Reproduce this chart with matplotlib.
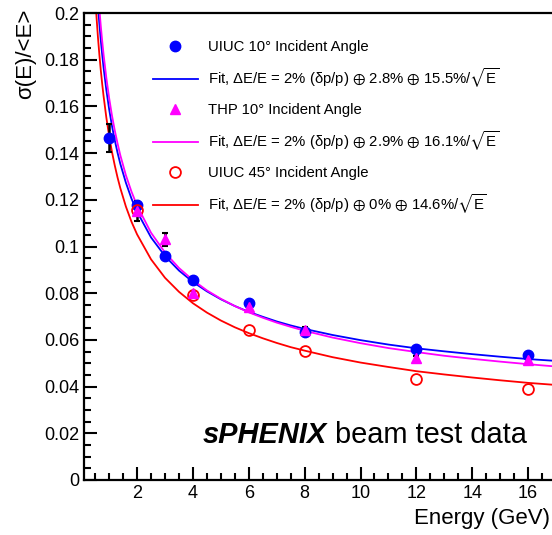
import matplotlib
matplotlib.use('Agg')
import matplotlib.pyplot as plt
from matplotlib.lines import Line2D
from matplotlib.ticker import MultipleLocator, FormatStrFormatter

plt.rcParams['font.family'] = ['Liberation Sans', 'DejaVu Sans']
plt.rcParams['mathtext.fontset'] = 'custom'
plt.rcParams['mathtext.rm'] = 'Liberation Sans'
plt.rcParams['mathtext.it'] = 'Liberation Sans:italic'
plt.rcParams['mathtext.bf'] = 'Liberation Sans:bold'
plt.rcParams['mathtext.fallback'] = 'stixsans'

# ---- measured points ----
energy_uiuc10 = [1, 2, 3, 4, 6, 8, 12, 16]
res_uiuc10 = [0.1464, 0.1177, 0.0961, 0.0858, 0.0758, 0.0635, 0.0561, 0.0536]
err_uiuc10 = [0.0060, 0.0015, 0.0010, 0.0010, 0.0010, 0.0010, 0.0010, 0.0010]

energy_thp10 = [2, 3, 4, 6, 8, 12, 16]
res_thp10 = [0.1152, 0.1030, 0.0800, 0.0740, 0.0644, 0.0522, 0.0512]
err_thp10 = [0.0043, 0.0028, 0.0010, 0.0010, 0.0010, 0.0010, 0.0010]

energy_uiuc45 = [2, 4, 6, 8, 12, 16]
res_uiuc45 = [0.1156, 0.0794, 0.0644, 0.0554, 0.0433, 0.0390]

# ---- fit curves ----
fit_energy = [0.5, 0.55, 0.6, 0.65, 0.7, 0.75, 0.8, 0.9, 1.0, 1.1, 1.2, 1.3, 1.4,
              1.6, 1.8, 2.0, 2.5, 3.0, 3.5, 4.0, 4.5, 5.0, 5.5, 6.0, 6.5, 7.0,
              7.5, 8.0, 9.0, 10.0, 11.0, 12.0, 13.0, 14.0, 15.0, 16.0, 17.0, 18.0]
fit_uiuc10 = [0.2219, 0.2118, 0.2030, 0.1953, 0.1884, 0.1823, 0.1767, 0.1670,
              0.1588, 0.1517, 0.1456, 0.1402, 0.1354, 0.1273, 0.1205, 0.1149,
              0.1039, 0.0959, 0.0897, 0.0848, 0.0808, 0.0774, 0.0745, 0.0720,
              0.0699, 0.0679, 0.0662, 0.0647, 0.0621, 0.0599, 0.0580, 0.0564,
              0.0551, 0.0539, 0.0528, 0.0518, 0.0510, 0.0502]
fit_thp10 = [0.2295, 0.2190, 0.2099, 0.2018, 0.1946, 0.1882, 0.1823, 0.1722,
             0.1636, 0.1562, 0.1498, 0.1442, 0.1391, 0.1305, 0.1235, 0.1175,
             0.1059, 0.0974, 0.0908, 0.0856, 0.0812, 0.0776, 0.0745, 0.0718,
             0.0695, 0.0674, 0.0656, 0.0639, 0.0610, 0.0586, 0.0565, 0.0548,
             0.0532, 0.0519, 0.0507, 0.0496, 0.0486, 0.0478]
fit_uiuc45 = [0.2074, 0.1979, 0.1895, 0.1822, 0.1756, 0.1698, 0.1645, 0.1552,
              0.1474, 0.1406, 0.1348, 0.1296, 0.1250, 0.1171, 0.1106, 0.1052,
              0.0945, 0.0866, 0.0806, 0.0757, 0.0717, 0.0683, 0.0654, 0.0629,
              0.0607, 0.0587, 0.0569, 0.0554, 0.0526, 0.0503, 0.0484, 0.0466,
              0.0452, 0.0439, 0.0427, 0.0416, 0.0407, 0.0398]

fit_terms = [('2.8%', '15.5%'), ('2.9%', '16.1%'), ('0%', '14.6%')]
angle_labels = ['UIUC 10\u00b0 Incident Angle', 'THP 10\u00b0 Incident Angle',
                'UIUC 45\u00b0 Incident Angle']


def fit_label(const, stoch):
    return ('Fit, \u0394E/E = 2% (\u03b4p/p) $\\oplus$ ' + const +
            ' $\\oplus$ ' + stoch + '/$\\sqrt{\\mathrm{E}}$')


labels = []
for name, (c, s) in zip(angle_labels, fit_terms):
    labels.append(name)
    labels.append(fit_label(c, s))

BLUE = '#0000ff'
MAG = '#ff00ff'
RED = '#ff0000'

W, H = 552, 535
fig = plt.figure(figsize=(W / 100, H / 100), dpi=100)
xmin, xmax = 0.1, 18.5
ax = fig.add_axes([84 / W, 55 / H, (xmax - xmin) * 27.93 / W, 467 / H])
ax.set_xlim(xmin, xmax)
ax.set_ylim(0, 0.2)

ax.plot(fit_energy, fit_uiuc10, color=BLUE, lw=1.3, zorder=2)
ax.plot(fit_energy, fit_thp10, color=MAG, lw=1.3, zorder=2)
ax.plot(fit_energy, fit_uiuc45, color=RED, lw=1.3, zorder=2)

ax.errorbar(energy_uiuc10, res_uiuc10, yerr=err_uiuc10, fmt='none', ecolor='black',
            elinewidth=1.8, capsize=2, capthick=1.5, zorder=3)
ax.errorbar(energy_thp10, res_thp10, yerr=err_thp10, fmt='none', ecolor='black',
            elinewidth=1.8, capsize=2, capthick=1.5, zorder=3)

ax.plot(energy_uiuc10, res_uiuc10, 'o', color=BLUE, ms=7.5, mec=BLUE, zorder=4)
ax.plot(energy_uiuc45, res_uiuc45, 'o', mfc='none', mec=RED, ms=7.8, mew=1.3, zorder=5)
ax.plot(energy_thp10, res_thp10, '^', color=MAG, ms=7.5, mec=MAG, zorder=6)

handles = [Line2D([], [], ls='none', marker='o', color=BLUE, ms=7.5),
           Line2D([], [], color=BLUE, lw=1.3),
           Line2D([], [], ls='none', marker='^', color=MAG, ms=7.5),
           Line2D([], [], color=MAG, lw=1.3),
           Line2D([], [], ls='none', marker='o', mfc='none', mec=RED, ms=7.8, mew=1.3),
           Line2D([], [], color=RED, lw=1.3)]
fig.legend(handles, labels, loc='upper left', bbox_to_anchor=(153 / W, 1 - 40 / H),
           bbox_transform=fig.transFigure, frameon=False, fontsize=10.7,
           handlelength=3.0, handletextpad=0.68, labelspacing=0.85,
           borderpad=0, borderaxespad=0)

# axes styling
for side in ['left', 'bottom', 'top']:
    ax.spines[side].set_linewidth(1.6)
ax.spines['right'].set_visible(False)
ax.xaxis.set_major_locator(MultipleLocator(2))
ax.xaxis.set_minor_locator(MultipleLocator(0.5))
ax.yaxis.set_major_locator(MultipleLocator(0.02))
ax.yaxis.set_minor_locator(MultipleLocator(0.005))
ax.yaxis.set_major_formatter(FormatStrFormatter('%g'))
ax.tick_params(which='both', direction='in', top=False, right=False, width=1.5,
               labelsize=13)
ax.tick_params(which='major', length=9.5, pad=3.5)
ax.tick_params(which='minor', length=5)
ax.set_xticks([2, 4, 6, 8, 10, 12, 14, 16])

fig.text(26 / W, 1 - 9 / H, '\u03c3(E)/<E>', rotation=90, ha='center', va='top',
         fontsize=16)
fig.text(550 / W, 1 - 508 / H, 'Energy (GeV)', ha='right', va='top', fontsize=16)

t1 = fig.text(203 / W, 1 - 435 / H, 'sPHENIX', fontweight='bold', fontstyle='italic',
              fontsize=20.9, va='center', ha='left')
ax.annotate(' beam test data', xy=(1, 0.5), xycoords=t1, va='center', ha='left',
            fontsize=20.9)

fig.savefig('out.png', dpi=100)
